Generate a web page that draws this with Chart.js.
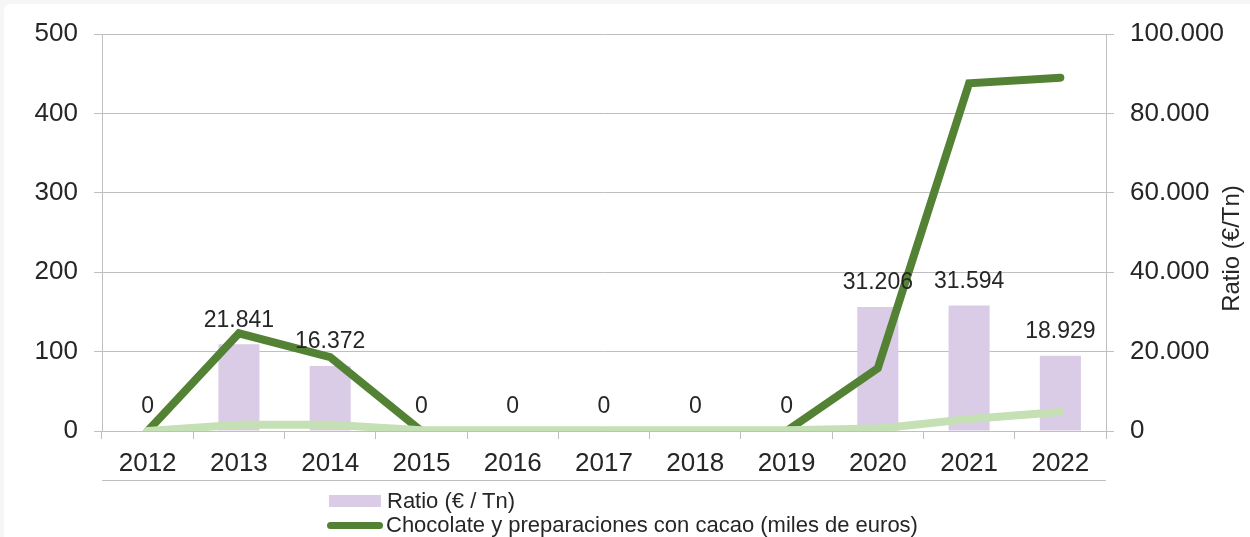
<!DOCTYPE html>
<html>
<head>
<meta charset="utf-8">
<script src="https://cdn.jsdelivr.net/npm/chart.js@4.4.1/dist/chart.umd.min.js"></script>
<style>
html, body { margin: 0; padding: 0; background: #f6f6f6; }
#wrap { position: relative; width: 1250px; height: 537px; overflow: hidden; }
#panel { position: absolute; left: 4px; top: 4px; right: 0; bottom: 0; background: #fff; border-top-left-radius: 6px; }
#chart { position: absolute; left: 0; top: 0; }
#legend { position: absolute; left: 327px; top: 489px; font: 22px "Liberation Sans", Arial, sans-serif; color: #262626; }
.row { display: flex; align-items: center; height: 24px; white-space: nowrap; }
</style>
</head>
<body>
<div id="wrap">
  <div id="panel"></div>
  <canvas id="chart" width="1250" height="537"></canvas>
  <div id="legend"></div>
</div>
<script>
const years = ["2012","2013","2014","2015","2016","2017","2018","2019","2020","2021","2022"];
const ratio = [0, 21841, 16372, 0, 0, 0, 0, 0, 31206, 31594, 18929];
const chocolateEuros = [0, 123, 93, 0, 0, 0, 0, 0, 79, 438, 445];
const chocolateTons = [0, 8, 8, 1, 1, 1, 1, 1, 3, 15, 24];
const leftTicks = { min: 0, max: 500, step: 100 };
const rightTicks = { min: 0, max: 100000, step: 20000 };
const rightTitle = "Ratio (€/Tn)";

const txt = "#262626";
const gridCol = "#bfbfbf";
Chart.defaults.font.family = '"Liberation Sans", Arial, sans-serif';
Chart.defaults.color = txt;

const dots = n => String(n).replace(/\B(?=(\d{3})+(?!\d))/g, ".");

// value labels over the bars, right axis title (bottom-to-top) and the line under the years
const extras = {
  id: "extras",
  afterDatasetsDraw(chart) {
    const ctx = chart.ctx;
    const meta = chart.getDatasetMeta(0);
    ctx.save();
    ctx.font = '23px "Liberation Sans", Arial, sans-serif';
    ctx.fillStyle = txt;
    ctx.textAlign = "center";
    ctx.textBaseline = "middle";
    meta.data.forEach((bar, i) => ctx.fillText(dots(ratio[i]), bar.x, bar.y - 24));
    ctx.restore();
  },
  afterDraw(chart) {
    const ctx = chart.ctx, a = chart.chartArea, y = Math.round(chart.scales.x.bottom) - 0.5;
    ctx.save();
    ctx.strokeStyle = gridCol;
    ctx.lineWidth = 1;
    ctx.beginPath();
    ctx.moveTo(a.left, y);
    ctx.lineTo(a.right, y);
    ctx.stroke();

    const r = chart.scales.y1;
    ctx.translate(r.right - 16, (a.top + a.bottom) / 2 + 16);
    ctx.rotate(-Math.PI / 2);
    ctx.font = '24px "Liberation Sans", Arial, sans-serif';
    ctx.fillStyle = txt;
    ctx.textAlign = "center";
    ctx.textBaseline = "middle";
    ctx.fillText(rightTitle, 0, 0);
    ctx.restore();
  }
};

const chart = new Chart(document.getElementById("chart"), {
  type: "bar",
  data: {
    labels: years,
    datasets: [
      { type: "bar", label: "Ratio (€ / Tn)", data: ratio, yAxisID: "y1",
        backgroundColor: "#dacce6", barPercentage: 0.45, categoryPercentage: 1, order: 3 },
      { type: "line", label: "Chocolate y preparaciones con cacao (miles de euros)", data: chocolateEuros, yAxisID: "y",
        borderColor: "#548235", backgroundColor: "#548235", borderWidth: 8, pointRadius: 0, tension: 0,
        borderCapStyle: "round", order: 2 },
      { type: "line", label: "Chocolate y preparaciones con cacao (toneladas)", data: chocolateTons, yAxisID: "y",
        borderColor: "#c5e0b4", backgroundColor: "#c5e0b4", borderWidth: 8, pointRadius: 0, tension: 0,
        borderCapStyle: "round", order: 1 }
    ]
  },
  options: {
    responsive: false,
    animation: false,
    devicePixelRatio: 1,
    layout: { padding: { left: 0, right: 2, top: 34, bottom: 56 } },
    plugins: { legend: { display: false }, tooltip: { enabled: false } },
    scales: {
      x: {
        offset: true,
        grid: { offset: true, drawOnChartArea: false, tickLength: 8, color: gridCol },
        border: { color: gridCol },
        ticks: { font: { size: 26 }, color: txt, padding: 9, maxRotation: 0 },
        afterFit: s => { s.height = 50; }
      },
      y: {
        position: "left",
        min: leftTicks.min, max: leftTicks.max,
        ticks: { stepSize: leftTicks.step, font: { size: 26 }, color: txt, padding: 16 },
        grid: { color: gridCol, tickLength: 8 },
        border: { color: gridCol },
        afterFit: s => { s.width = 102; }
      },
      y1: {
        position: "right",
        min: rightTicks.min, max: rightTicks.max,
        ticks: { stepSize: rightTicks.step, font: { size: 26 }, color: txt, padding: 16, callback: v => dots(v) },
        grid: { drawOnChartArea: false, color: gridCol, tickLength: 8 },
        border: { color: gridCol },
        afterFit: s => { s.width = 142; }
      }
    }
  },
  plugins: [extras]
});

// legend (only the first two entries fit in the picture)
const legend = document.getElementById("legend");
chart.data.datasets.slice(0, 2).forEach(ds => {
  const row = document.createElement("div");
  row.className = "row";
  const sw = document.createElement("span");
  if (ds.type === "bar") {
    sw.style.cssText = `display:inline-block;width:52px;height:12px;margin-left:2px;margin-right:6px;background:${ds.backgroundColor}`;
  } else {
    sw.style.cssText = `display:inline-block;width:56px;height:7px;border-radius:4px;margin-right:3px;background:${ds.borderColor}`;
  }
  row.appendChild(sw);
  row.appendChild(document.createTextNode(ds.label));
  legend.appendChild(row);
});
</script>
</body>
</html>
